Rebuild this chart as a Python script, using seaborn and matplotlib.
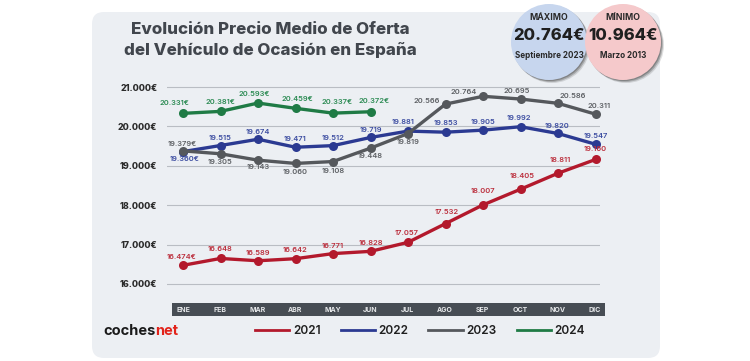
import pandas as pd
import matplotlib.pyplot as plt
import seaborn as sns
from matplotlib.patches import FancyBboxPatch, Circle
from matplotlib.ticker import FuncFormatter

# Datos: precio medio de oferta del vehículo de ocasión (€)
meses = ['ENE', 'FEB', 'MAR', 'ABR', 'MAY', 'JUN', 'JUL', 'AGO', 'SEP', 'OCT', 'NOV', 'DIC']
precio_2021 = [16474, 16648, 16589, 16642, 16771, 16828, 17057, 17532, 18007, 18405, 18811, 19160]
precio_2022 = [19360, 19515, 19674, 19471, 19512, 19719, 19881, 19853, 19905, 19992, 19820, 19547]
precio_2023 = [19379, 19305, 19143, 19060, 19108, 19448, 19819, 20566, 20764, 20695, 20586, 20311]
precio_2024 = [20331, 20381, 20593, 20459, 20337, 20372]
anios = ['2021', '2022', '2023', '2024']
y_ticks = [16000, 17000, 18000, 19000, 20000, 21000]
maximo_valor, maximo_fecha = '20.764€', 'Septiembre 2023'
minimo_valor, minimo_fecha = '10.964€', 'Marzo 2013'

series = dict(zip(anios, [precio_2021, precio_2022, precio_2023, precio_2024]))
df = pd.concat([pd.DataFrame({'mes': range(len(v)), 'precio': v, 'anio': k})
                for k, v in series.items()], ignore_index=True)

colores = {'2021': '#b3192c', '2022': '#2b3a92', '2023': '#55585c', '2024': '#1f7b45'}
colores_txt = {'2021': '#bb2d3b', '2022': '#3a4ba0', '2023': '#5c5f63', '2024': '#2a8a52'}

# desplazamiento de las etiquetas (px): (dx, dy), dy>0 encima
offsets = {
    '2021': [(-1, 8), (0, 9), (0, 8), (0, 9), (0, 8), (0, 8), (-1, 9), (1, 12), (0, 14), (2, 13), (2, 13), (0, 10)],
    '2022': [(2, -7), (0, 8), (0, 7), (0, 8), (0, 8), (0, 7), (-5, 9), (0, 9), (0, 8), (-2, 9), (-1, 7), (0, 8)],
    '2023': [(-1, 7), (0, -8), (0, -7), (0, -9), (0, -9), (0, -8), (0, -8), (-19, 3), (-19, 4), (-4, 8), (15, 7), (4, 8)],
    '2024': [(-9, 10), (0, 9), (-4, 9), (2, 9), (4, 11), (4, 11)],
}

plt.rcParams['font.family'] = ['Inter', 'DejaVu Sans']

fig = plt.figure(figsize=(7.5, 3.61), dpi=100)
fig.patch.set_facecolor('white')

# Fondo, título y círculos en coordenadas de píxel
bg = fig.add_axes([0, 0, 1, 1], zorder=0)
bg.set_xlim(0, 750)
bg.set_ylim(361, 0)
bg.axis('off')
bg.add_patch(FancyBboxPatch((92, 12), 568, 346, boxstyle='round,pad=0,rounding_size=12',
                            fc='#eceff3', ec='none'))
bg.text(270, 29, 'Evolución Precio Medio de Oferta', ha='center', va='center',
        fontsize=12.2, weight='heavy', color='#41464d')
bg.text(270, 50, 'del Vehículo de Ocasión en España', ha='center', va='center',
        fontsize=12.2, weight='heavy', color='#41464d')

for cx, fc, titulo, valor, fecha in [(549, '#c7d6ee', 'MÁXIMO', maximo_valor, maximo_fecha),
                                     (623, '#f5c9cb', 'MÍNIMO', minimo_valor, minimo_fecha)]:
    for k, a in [(3, 0.15), (2, 0.25), (1, 0.3)]:
        bg.add_patch(Circle((cx + k, 42 + k), 38, fc='#2d2d2d', alpha=a, ec='none'))
    bg.add_patch(Circle((cx, 42), 38, fc=fc, ec='none'))
    bg.text(cx, 17, titulo, ha='center', va='center', fontsize=6.3, weight='bold', color='#2a2a2a')
    bg.text(cx, 36, valor, ha='center', va='center', fontsize=12, weight='heavy', color='#1f1f1f')
    bg.text(cx, 55, fecha, ha='center', va='center', fontsize=5.8, weight='bold', color='#2a2a2a')

t = bg.text(103, 331, 'coches', ha='left', va='center', fontsize=10.5, weight='bold', color='#1a1a1a')
bg.annotate('net', xy=(1, 0), xycoords=t, ha='left', va='bottom', fontsize=10.5,
            weight='bold', color='#e2231a')

# Gráfico de líneas
ax = fig.add_axes([167 / 750, 1 - 290 / 361, 433 / 750, 210 / 361], zorder=1)
ax.patch.set_alpha(0)
sns.lineplot(data=df, x='mes', y='precio', hue='anio', palette=colores, marker='o',
             markersize=6.5, markeredgewidth=0, linewidth=2.4, ax=ax)

for anio, valores in series.items():
    for i, v in enumerate(valores):
        etiqueta = f'{v:,}'.replace(',', '.')
        if i == 0 or anio == '2024':
            etiqueta += '€'
        dx, dy = offsets[anio][i]
        ax.annotate(etiqueta, (i, v), xytext=(dx * 0.72, dy * 0.72), textcoords='offset points',
                    ha='center', va='center', fontsize=5.4, weight='semibold',
                    color=colores_txt[anio])

ax.set_xlim(-0.427, 11.12)
ax.set_ylim(15847, 21178)
ax.set_yticks(y_ticks)
ax.yaxis.set_major_formatter(FuncFormatter(lambda v, p: f'{int(v):,}€'.replace(',', '.')))
ax.set_xticks([])
ax.yaxis.grid(True, color='#b9bdc3', linewidth=0.8)
ax.set_axisbelow(True)
ax.tick_params(axis='y', length=0, pad=7, labelsize=6.4, labelcolor='#2b2b2b')
for lbl in ax.get_yticklabels():
    lbl.set_fontweight('heavy')
for s in ax.spines.values():
    s.set_visible(False)
ax.set_xlabel('')
ax.set_ylabel('')

handles, labels = ax.get_legend_handles_labels()
for h in handles:
    h.set_marker('')
    h.set_linewidth(2.0)
ax.get_legend().remove()
fig.legend(handles, labels, loc='center', bbox_to_anchor=(420 / 750, 1 - 331 / 361), ncol=4,
           frameon=False, prop={'size': 8.5, 'weight': 'semibold'}, handlelength=2.9,
           handletextpad=0.3, columnspacing=1.7, labelcolor='#1f1f1f')

# Banda de meses
mb = fig.add_axes([172 / 750, 1 - 316 / 361, 433 / 750, 13 / 361], zorder=1)
mb.set_facecolor('#474d54')
mb.set_xlim(-0.293, 11.27)
mb.set_ylim(0, 1)
for i, m in enumerate(meses):
    mb.text(i, 0.5, m, ha='center', va='center', fontsize=5, weight='bold', color='#e6e8ea')
mb.set_xticks([])
mb.set_yticks([])
for s in mb.spines.values():
    s.set_visible(False)

fig.savefig('out.png', dpi=100)
